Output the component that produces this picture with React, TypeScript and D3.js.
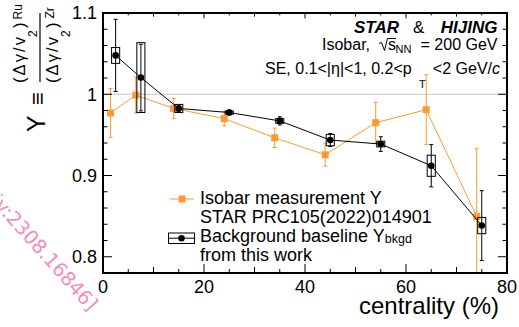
import React from "react";
import * as d3 from "d3";

// ---- data ----
const centralityIso = [1.5, 6.5, 14, 24, 34, 44, 54, 64, 74];
const isoY = [0.977, 0.999, 0.9825, 0.97, 0.9464, 0.9255, 0.965, 0.981, 0.8495];
const isoErr = [0.03, 0.022, 0.0125, 0.009, 0.012, 0.014, 0.025, 0.043, 0.0835];

const centralityBkg = [2.5, 7.5, 15, 25, 35, 45, 55, 65, 75];
const bkgY = [1.0478, 1.0205, 0.9825, 0.9775, 0.9672, 0.9436, 0.9387, 0.912, 0.8384];
const bkgStat = [0.0444, 0.041, 0.004, 0.003, 0.005, 0.008, 0.009, 0.026, 0.043];
const bkgSys = [0.0098, 0.043, 0.005, 0.002, 0.003, 0.007, 0.0035, 0.013, 0.01];

const xTickLabels = [0, 20, 40, 60, 80];
const yTickLabels = [0.8, 0.9, 1.0, 1.1];

const W = 519, H = 327;
const L = 103, R = 507, T = 13, B = 273;
const ORANGE = "#ff9933";
const FONT = "'Liberation Sans', Arial, Helvetica, sans-serif";

export default function App() {
  const x = d3.scaleLinear().domain([0, 80]).range([L, R]);
  const y = d3.scaleLinear().domain([0.78, 1.1]).range([B, T]);

  const xMinor = d3.range(0, 80.001, 5);
  const yMinor = d3.range(0.8, 1.1001, 0.02);

  const isoPts = centralityIso.map((c, i) => [c, isoY[i]] as [number, number]);
  const bkgPts = centralityBkg.map((c, i) => [c, bkgY[i]] as [number, number]);
  const line = d3.line<[number, number]>().x(d => x(d[0])).y(d => y(d[1]));

  const xTickLen = (v: number) => (v % 20 === 0 ? 9 : v % 10 === 0 ? 6 : 4);
  const yTickLen = (v: number) => (Math.abs(Math.round(v * 10) - v * 10) < 1e-6 ? 9 : 4.5);

  const boxHalf = 0.8;
  const cap = 2;

  return (
    <svg width={W} height={H} style={{ position: "absolute", left: 0, top: 0, background: "#fff" }}
      fontFamily={FONT}>
      <defs>
        <clipPath id="plotclip">
          <rect x={L} y={T} width={R - L} height={B - T} />
        </clipPath>
      </defs>
      <rect x={0} y={0} width={W} height={H} fill="#fff" />

      {/* watermark */}
      <text transform="translate(89,312) rotate(48)" textAnchor="end" fontSize={19.5}
        fontFamily="'DejaVu Sans', sans-serif" fill="#f28dbf">[arXiv:2308.16846]</text>

      {/* reference line at 1 */}
      <line x1={L} x2={R} y1={y(1)} y2={y(1)} stroke="#c8c8c8" strokeWidth={1} />

      <g clipPath="url(#plotclip)">
        {/* orange series */}
        <path d={line(isoPts) || ""} fill="none" stroke={ORANGE} strokeWidth={1} />
        {isoPts.map((p, i) => (
          <g key={"ie" + i} stroke={ORANGE} strokeWidth={1}>
            <line x1={x(p[0])} x2={x(p[0])} y1={y(p[1] + isoErr[i])} y2={y(p[1] - isoErr[i])} />
            <line x1={x(p[0]) - cap} x2={x(p[0]) + cap} y1={y(p[1] + isoErr[i])} y2={y(p[1] + isoErr[i])} />
            <line x1={x(p[0]) - cap} x2={x(p[0]) + cap} y1={y(p[1] - isoErr[i])} y2={y(p[1] - isoErr[i])} />
          </g>
        ))}
        {isoPts.map((p, i) => (
          <rect key={"im" + i} x={x(p[0]) - 3.5} y={y(p[1]) - 3.5} width={7} height={7} fill={ORANGE} />
        ))}

        {/* black series */}
        <path d={line(bkgPts) || ""} fill="none" stroke="#000" strokeWidth={1} />
        {bkgPts.map((p, i) => (
          <g key={"be" + i} stroke="#000" strokeWidth={1}>
            <line x1={x(p[0])} x2={x(p[0])} y1={y(p[1] + bkgStat[i])} y2={y(p[1] - bkgStat[i])} />
            <line x1={x(p[0]) - cap} x2={x(p[0]) + cap} y1={y(p[1] + bkgStat[i])} y2={y(p[1] + bkgStat[i])} />
            <line x1={x(p[0]) - cap} x2={x(p[0]) + cap} y1={y(p[1] - bkgStat[i])} y2={y(p[1] - bkgStat[i])} />
            <rect x={x(p[0] - boxHalf)} y={y(p[1] + bkgSys[i])} width={x(p[0] + boxHalf) - x(p[0] - boxHalf)}
              height={y(p[1] - bkgSys[i]) - y(p[1] + bkgSys[i])} fill="none" />
          </g>
        ))}
        {bkgPts.map((p, i) => (
          <circle key={"bm" + i} cx={x(p[0])} cy={y(p[1])} r={3.3} fill="#000" />
        ))}
      </g>

      {/* ticks */}
      <g stroke="#000" strokeWidth={1}>
        {xMinor.map(v => (
          <g key={"xt" + v}>
            <line x1={x(v)} x2={x(v)} y1={B} y2={B - xTickLen(v)} />
            <line x1={x(v)} x2={x(v)} y1={T} y2={T + xTickLen(v) * 0.6} />
          </g>
        ))}
        {yMinor.map(v => (
          <g key={"yt" + v.toFixed(2)}>
            <line x1={L} x2={L + yTickLen(v)} y1={y(v)} y2={y(v)} />
            <line x1={R} x2={R - yTickLen(v)} y1={y(v)} y2={y(v)} />
          </g>
        ))}
      </g>
      {/* frame */}
      <rect x={L} y={T} width={R - L} height={B - T} fill="none" stroke="#000" strokeWidth={2} />

      {/* tick labels */}
      {xTickLabels.map(v => (
        <text key={"xl" + v} x={x(v)} y={292.5} textAnchor="middle" fontSize={18}>{v}</text>
      ))}
      {yTickLabels.map(v => (
        <text key={"yl" + v} x={97} y={y(v) + 6.3} textAnchor="end" fontSize={18}>{d3.format("")(+v.toFixed(1))}</text>
      ))}

      {/* x title */}
      <text x={499} y={314} textAnchor="end" fontSize={24}>centrality (%)</text>

      {/* y title (rotated) */}
      <g transform="rotate(-90)">
        <text x={-132} y={45} fontSize={25}>Y</text>
        <text x={-105} y={45} fontSize={22}>≡</text>
        <text x={-83} y={25} fontSize={16.5} textLength={46}>(Δγ/v</text>
        <text x={-37} y={36.5} fontSize={12}>2</text>
        <text x={-28} y={25} fontSize={16.5}>)</text>
        <text x={-19.5} y={21.5} fontSize={12}>Ru</text>
        <text x={-83} y={58} fontSize={16.5} textLength={46}>(Δγ/v</text>
        <text x={-37} y={69.5} fontSize={12}>2</text>
        <text x={-28} y={58} fontSize={16.5}>)</text>
        <text x={-18.5} y={54} fontSize={12}>Zr</text>
      </g>
      <line x1={40} x2={40} y1={13} y2={82} stroke="#000" strokeWidth={1.2} />

      {/* top-right annotations */}
      <text x={354} y={33.3} fontSize={17} fontWeight="bold" fontStyle="italic">STAR</text>
      <text x={413} y={33.3} fontSize={17}>&amp;</text>
      <text x={497.5} y={33.3} fontSize={17} fontWeight="bold" fontStyle="italic" textAnchor="end">HIJING</text>

      <text x={322} y={50} fontSize={16}>Isobar,</text>
      <path d="M379,43.5 L381.5,42.5 L384.5,50.5 L387.5,38.5 L396,38.5" fill="none" stroke="#000" strokeWidth={1} />
      <text x={388} y={50} fontSize={16}>s</text>
      <text x={395.5} y={53} fontSize={11}>NN</text>
      <text x={497.5} y={50} fontSize={16} textAnchor="end">= 200 GeV</text>

      <text x={265} y={74} fontSize={16}>SE, 0.1&lt;|η|&lt;1, 0.2&lt;p</text>
      <text x={419} y={88} fontSize={11}>T</text>
      <text x={500} y={74} fontSize={16} textAnchor="end">&lt;2 GeV/<tspan fontStyle="italic">c</tspan></text>

      {/* legend */}
      <line x1={170} x2={194} y1={199} y2={199} stroke={ORANGE} strokeWidth={1} />
      <rect x={182 - 3.5} y={199 - 3.5} width={7} height={7} fill={ORANGE} />
      <text x={200} y={203.5} fontSize={18}>Isobar measurement Y</text>
      <text x={200} y={223} fontSize={18}>STAR PRC105(2022)014901</text>

      <rect x={168.5} y={233} width={26} height={10.5} fill="none" stroke="#000" strokeWidth={1} />
      <line x1={168.5} x2={194.5} y1={238.2} y2={238.2} stroke="#000" strokeWidth={1} />
      <circle cx={181.5} cy={238.2} r={3.3} fill="#000" />
      <text x={200} y={242} fontSize={18}>Background baseline Y<tspan fontSize={12.5} dy={1}>bkgd</tspan></text>
      <text x={200} y={261} fontSize={18}>from this work</text>
    </svg>
  );
}
